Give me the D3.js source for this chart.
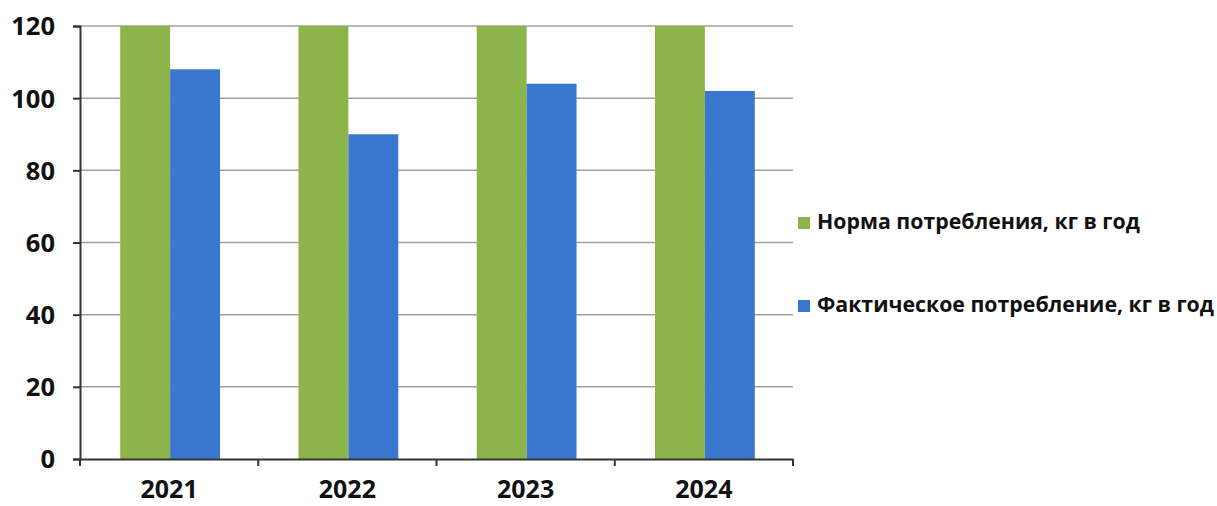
<!DOCTYPE html>
<html><head><meta charset="utf-8">
<script src="https://cdn.jsdelivr.net/npm/d3@7"></script>
<style>body{margin:0;background:#fff;} text{font-family:"Open Sans",sans-serif;}</style>
</head><body>
<svg id="c" width="1217" height="506"></svg>
<script>
const categories = ["2021","2022","2023","2024"];
const seriesNames = ["Норма потребления, кг в год","Фактическое потребление, кг в год"];
const normValues = [120,120,120,120];
const actualValues = [108,90,104,102];
const yTicks = [0,20,40,60,80,100,120];
const colors = ["#8db44a","#3a78cf"];

(function(){
const svg = d3.select("#c");
const mLeft = 80, mRight = 793, mTop = 26, mBottom = 459;
const x = d3.scaleBand().domain(categories).range([mLeft,mRight]).paddingInner(0.44).paddingOuter(0.22);
const y = d3.scaleLinear().domain([0,120]).range([mBottom,mTop]);
const sub = d3.scaleBand().domain([0,1]).range([0,x.bandwidth()]);

svg.append("g").selectAll("line").data(yTicks.filter(d=>d>0)).join("line")
  .attr("x1",mLeft).attr("x2",mRight).attr("y1",d=>y(d)).attr("y2",d=>y(d))
  .attr("stroke","#a0a0a0").attr("stroke-width",1.5);

const data = [normValues, actualValues];
data.forEach((vals,si)=>{
  svg.append("g").selectAll("rect").data(categories).join("rect")
    .attr("x",(c)=>x(c)+sub(si)+1).attr("width",sub.bandwidth())
    .attr("y",(c,i)=>y(vals[i])).attr("height",(c,i)=>mBottom-y(vals[i]))
    .attr("fill",colors[si]);
});

const ya = svg.append("g").attr("transform",`translate(${mLeft},0)`)
  .call(d3.axisLeft(y).tickValues(yTicks).tickSize(7).tickPadding(18));
ya.select(".domain").attr("stroke","#333").attr("stroke-width",2);
ya.selectAll(".tick line").attr("stroke","#333").attr("stroke-width",2);
ya.selectAll("text").attr("font-size",25.5).attr("font-weight",700).attr("fill","#111").attr("dy","0.35em");

const xa = svg.append("g").attr("transform",`translate(0,${mBottom})`)
  .call(d3.axisBottom(x).tickSize(0).tickPadding(21));
xa.select(".domain").attr("stroke","#333").attr("stroke-width",2);
xa.selectAll("text").attr("font-size",25).attr("font-weight",700).attr("fill","#111");
const bounds = d3.range(categories.length+1).map(i=>mLeft+i*(mRight-mLeft)/categories.length);
svg.append("g").selectAll("line").data(bounds).join("line")
  .attr("x1",d=>d).attr("x2",d=>d).attr("y1",mBottom).attr("y2",mBottom+7)
  .attr("stroke","#333").attr("stroke-width",2);

const lg = svg.append("g");
const ly = [222, 305];
seriesNames.forEach((n,i)=>{
  lg.append("rect").attr("x",798).attr("y",ly[i]-5).attr("width",12).attr("height",12).attr("fill",colors[i]);
  lg.append("text").attr("x",817).attr("y",ly[i]).attr("dy","0.35em")
    .attr("font-size",21.3).attr("font-weight",700).attr("fill","#111").text(n);
});
})();
</script>
</body></html>
